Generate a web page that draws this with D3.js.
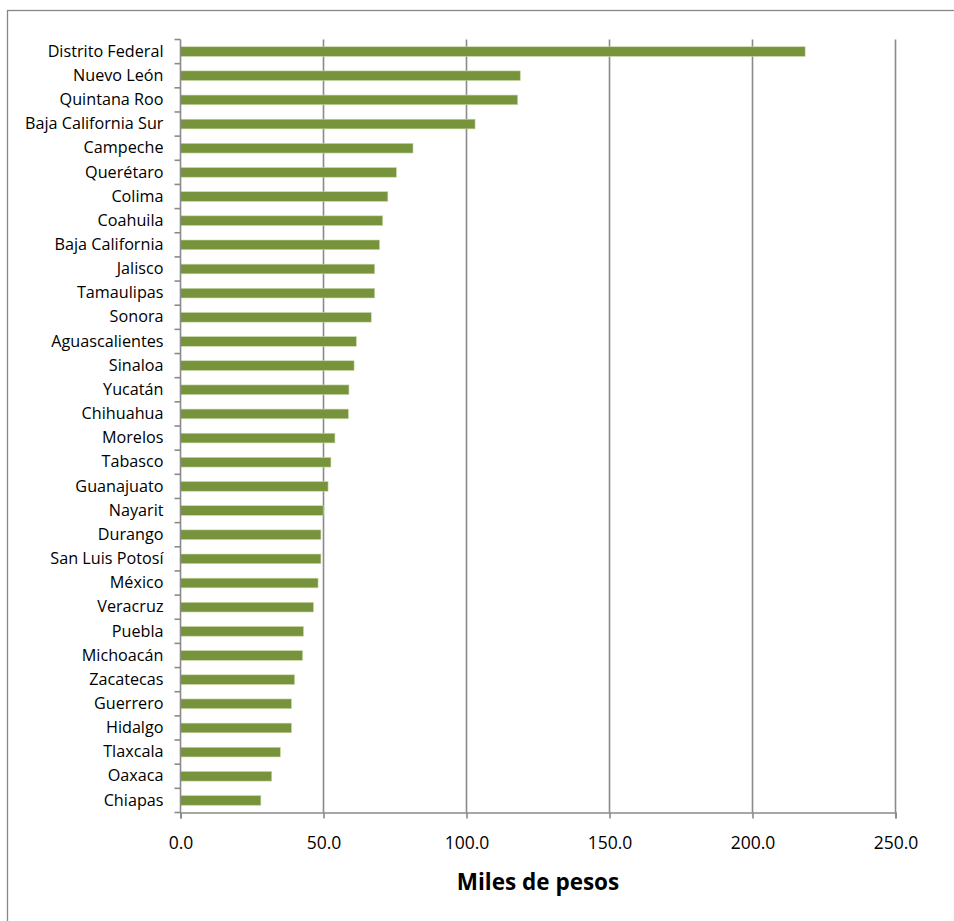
<!DOCTYPE html>
<html><head><meta charset="utf-8">
<script src="https://cdn.jsdelivr.net/npm/d3@7"></script>
<style>body{margin:0;background:#fff}svg{display:block}</style>
</head><body>
<svg id="c" width="954" height="921"></svg>
<script>
const states = ["Distrito Federal","Nuevo León","Quintana Roo","Baja California Sur","Campeche","Querétaro","Colima","Coahuila","Baja California","Jalisco","Tamaulipas","Sonora","Aguascalientes","Sinaloa","Yucatán","Chihuahua","Morelos","Tabasco","Guanajuato","Nayarit","Durango","San Luis Potosí","México","Veracruz","Puebla","Michoacán","Zacatecas","Guerrero","Hidalgo","Tlaxcala","Oaxaca","Chiapas"];
const values = [218.4,118.8,117.9,103.0,81.3,75.5,72.5,70.7,69.6,67.9,67.9,66.7,61.5,60.7,58.9,58.7,54.0,52.6,51.6,49.9,49.1,49.1,48.1,46.5,43.0,42.7,39.9,38.8,38.8,34.9,31.9,28.1];
const xTicks = [0,50,100,150,200,250];
const xTitle = "Miles de pesos";

const svg = d3.select("#c");
const font = "'Open Sans', 'Liberation Sans', sans-serif";
const L = 180.5, R = 895.5, T = 39.5, B = 812.5;

svg.append("rect").attr("x",7.5).attr("y",10.5).attr("width",1000).attr("height",1000)
  .attr("fill","none").attr("stroke","#878787").attr("stroke-width",1.3);

const x = d3.scaleLinear().domain([0,250]).range([L,R]);
const y = d3.scaleBand().domain(states).range([T,B]).paddingInner(0.6).paddingOuter(0.3);
const yb = d3.scaleBand().domain(states).range([T,B]);

// gridlines
svg.append("g").selectAll("line").data(xTicks.slice(1)).join("line")
  .attr("x1",d=>x(d)).attr("x2",d=>x(d)).attr("y1",T).attr("y2",B)
  .attr("stroke","#8a8a8a").attr("stroke-width",1.6);

// bars
svg.append("g").selectAll("rect").data(values).join("rect")
  .attr("x",x(0)).attr("y",(d,i)=>y(states[i]))
  .attr("width",d=>x(d)-x(0)).attr("height",y.bandwidth())
  .attr("fill","#77933c").attr("stroke","#c9d9a9").attr("stroke-width",0.6);

// x axis
const xa = svg.append("g").attr("transform",`translate(0,${B})`)
  .call(d3.axisBottom(x).tickValues(xTicks).tickFormat(d3.format(".1f")).tickSize(6).tickPadding(18));
xa.select(".domain").attr("stroke","#8a8a8a").attr("stroke-width",1.6);
xa.selectAll(".tick line").attr("stroke","#8a8a8a").attr("stroke-width",1.6);
xa.selectAll("text").attr("font-family",font).attr("font-size",17.5).attr("fill","#000");

// y axis
const ya = svg.append("g").attr("transform",`translate(${L},0)`)
  .call(d3.axisLeft(y).tickSize(0).tickPadding(17));
ya.select(".domain").attr("stroke","#8a8a8a").attr("stroke-width",1.6).attr("d",`M0,${T}V${B}`);
ya.selectAll("text").attr("font-family",font).attr("font-size",16.2).attr("fill","#000");
// category boundary ticks
svg.append("g").selectAll("line").data(states.concat([null])).join("line")
  .attr("x1",L-6).attr("x2",L).attr("y1",(d,i)=> i<states.length ? yb(d) : B).attr("y2",(d,i)=> i<states.length ? yb(d) : B)
  .attr("stroke","#8a8a8a").attr("stroke-width",1.6);

svg.append("text").attr("x",(L+R)/2).attr("y",890).attr("text-anchor","middle")
  .attr("font-family",font).attr("font-weight","bold").attr("font-size",22.5).text(xTitle);
</script>
</body></html>
